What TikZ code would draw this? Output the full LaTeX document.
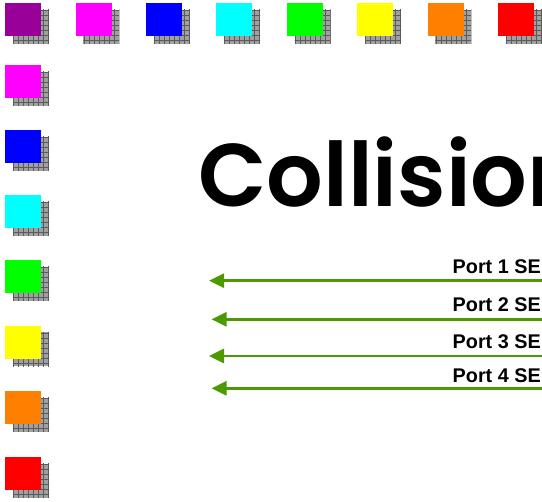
\documentclass[tikz,border=0pt]{standalone}
\usepackage{fontspec}
\usetikzlibrary{arrows.meta}
\newfontfamily\titlefont{Poppins SemiBold}
\newfontfamily\portfont{Liberation Sans}
\definecolor{cpurple}{HTML}{990099}
\definecolor{cmagenta}{HTML}{FF00FF}
\definecolor{cblue}{HTML}{0000FF}
\definecolor{ccyan}{HTML}{00FFFF}
\definecolor{cgreen}{HTML}{00FF00}
\definecolor{cyellow}{HTML}{FFFF00}
\definecolor{corange}{HTML}{FF8000}
\definecolor{cred}{HTML}{FF0000}
\definecolor{shadowfill}{HTML}{A0A0A0}
\definecolor{shadowgrid}{HTML}{5A5A5A}
\definecolor{arrowgreen}{HTML}{4D9900}
\tikzset{
  sqbox/.style={draw=none, minimum width=36pt, minimum height=33pt, inner sep=0pt, anchor=north west},
  portlabel/.style={font=\portfont\bfseries\fontsize{19.8}{20}\selectfont, anchor=base west, inner sep=0pt},
  sendarrow/.style={draw=arrowgreen, line width=2.6pt, -{Triangle[length=15pt,width=14pt]}},
}
\newcommand{\colsq}[4]{% name, x, y, color
  \fill[shadowfill] (#2+8,#3+7) rectangle (#2+44,#3+41);
  \begin{scope}
    \clip (#2+8,#3+7) rectangle (#2+44,#3+41);
    \draw[shadowgrid, line width=0.7pt, xstep=5pt, ystep=5pt, shift={(#2+8.5,#3+7.5)}] (-1,-1) grid (40,40);
  \end{scope}
  \node[sqbox, fill=#4] (#1) at (#2,#3) {};
}
\begin{document}
\begin{tikzpicture}[x=1pt,y=-1pt]
\clip (0,0) rectangle (542,502);
\fill[white] (0,0) rectangle (542,502);
% top row
\colsq{t1}{5}{3}{cpurple}
\colsq{t2}{75.4}{3}{cmagenta}
\colsq{t3}{145.8}{3}{cblue}
\colsq{t4}{216.2}{3}{ccyan}
\colsq{t5}{286.6}{3}{cgreen}
\colsq{t6}{357}{3}{cyellow}
\colsq{t7}{427.4}{3}{corange}
\colsq{t8}{497.8}{3}{cred}
% left column
\colsq{l2}{5}{65}{cmagenta}
\colsq{l3}{5}{130}{cblue}
\colsq{l4}{5}{195}{ccyan}
\colsq{l5}{5}{260}{cgreen}
\colsq{l6}{5}{325.5}{cyellow}
\colsq{l7}{5}{391}{corange}
\colsq{l8}{5}{457}{cred}
% title
\node[anchor=base west, inner sep=0pt, font=\titlefont\fontsize{89}{90}\selectfont] (title) at (198,207) {Collision};
% ports
\node[portlabel] (p1) at (452.5,274) {Port 1 SE};
\node[portlabel] (p2) at (452.5,311.7) {Port 2 SE};
\node[portlabel] (p3) at (452.5,349) {Port 3 SE};
\node[portlabel] (p4) at (452.5,382.7) {Port 4 SE};
\coordinate (s1) at (550,280.7); \coordinate (e1) at (209,280.7);
\coordinate (s2) at (550,319.3); \coordinate (e2) at (211.5,319.3);
\coordinate (s3) at (550,356); \coordinate (e3) at (209,356);
\coordinate (s4) at (550,388.3); \coordinate (e4) at (211.5,388.3);
\draw[sendarrow] (s1) -- (e1);
\draw[sendarrow] (s2) -- (e2);
\draw[sendarrow] (s3) -- (e3);
\draw[sendarrow] (s4) -- (e4);
\end{tikzpicture}
\end{document}
